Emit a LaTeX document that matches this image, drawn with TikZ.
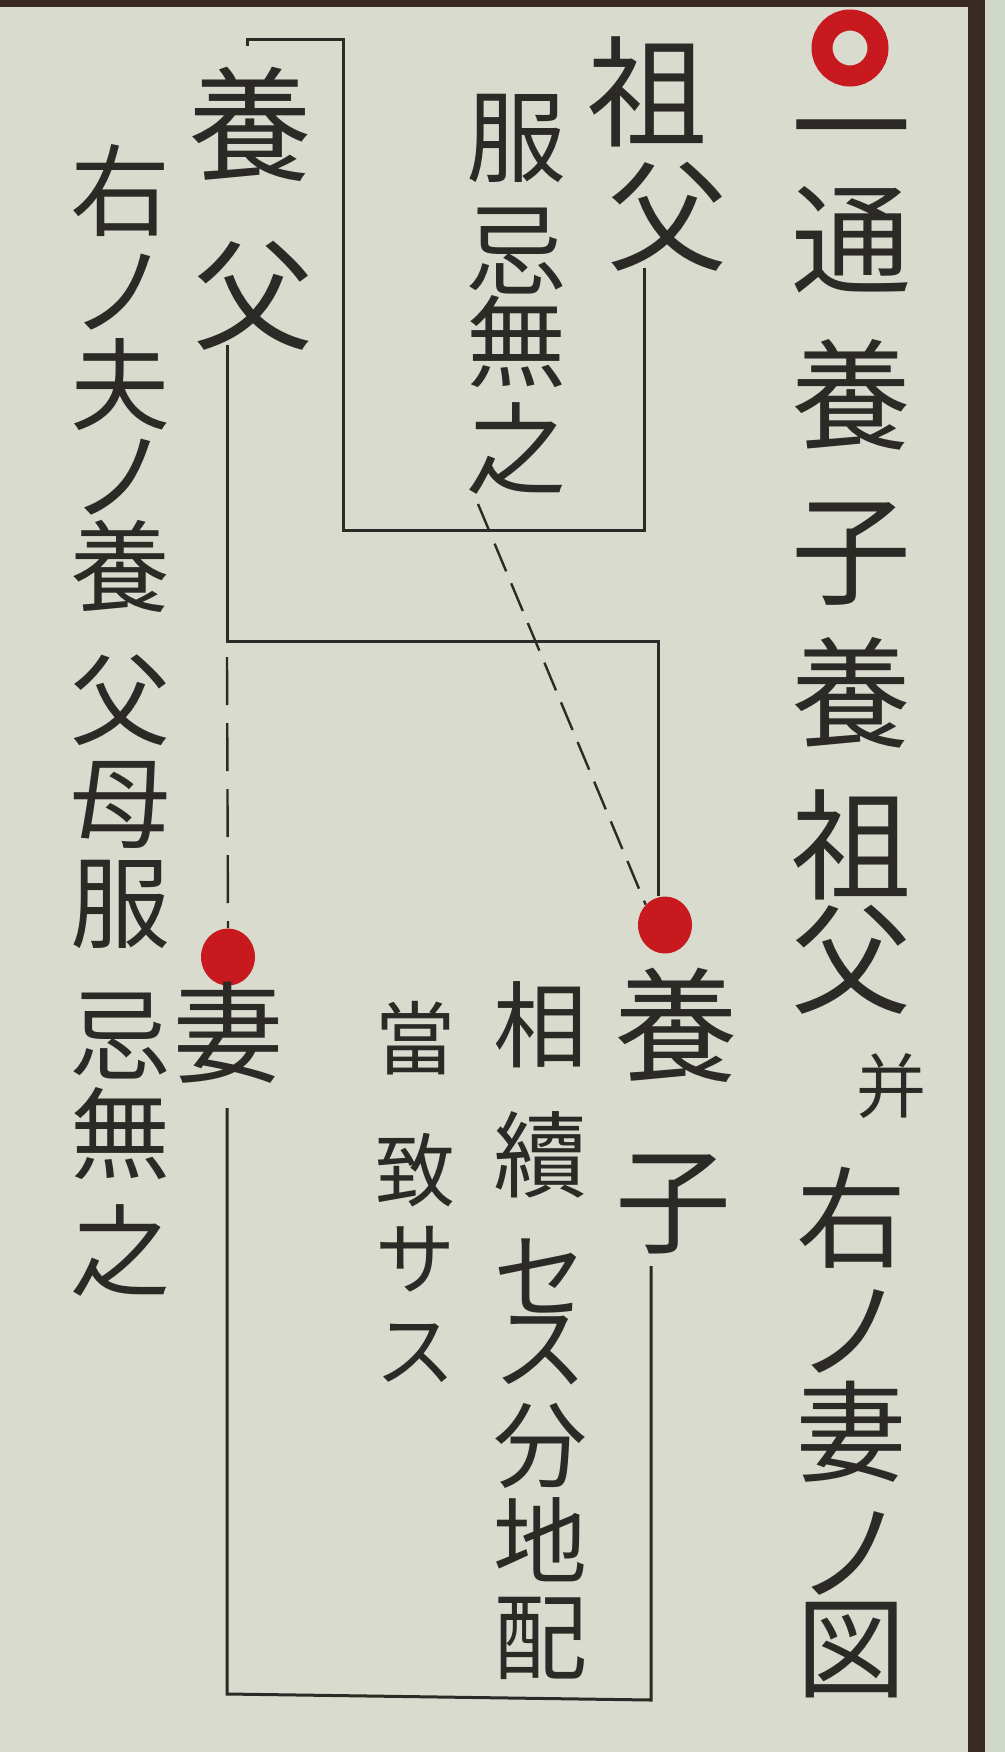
\documentclass[tikz,border=0pt]{standalone}
\usepackage{fontspec}
\newfontfamily\cjk{Noto Sans CJK JP}
\usetikzlibrary{shapes.geometric}
\definecolor{paper}{HTML}{DADBCF}
\definecolor{strip}{HTML}{D0D8CB}
\definecolor{frame}{HTML}{3A2A24}
\definecolor{ink}{HTML}{2C2A26}
\definecolor{seal}{HTML}{C8191E}
\newcommand\emglyph[1]{\raisebox{0pt}[0.88em][0.12em]{#1}}
\tikzset{
  ch/.style={inner sep=0pt, text=ink, font=\cjk\fontsize{#1}{#1}\selectfont},
  ch/.default=60,
  rule/.style={draw=ink, line width=1.5pt, line join=miter},
  vdash/.style={draw=ink, line width=1.2pt, dash pattern=on 24pt off 9pt},
  ddash/.style={draw=ink, line width=1.2pt, dash pattern=on 15pt off 6.5pt},
  dot/.style={ellipse, fill=seal, minimum width=27pt, minimum height=28.5pt, inner sep=0pt},
  ring/.style={circle, draw=seal, line width=10.5pt, minimum size=28pt, inner sep=0pt}
}
\begin{document}
\begin{tikzpicture}[x=0.5pt,y=-0.5pt]
\useasboundingbox (0,0) rectangle (1005,1752);
% paper and frame
\fill[paper] (0,0) rectangle (1005,1752);
\fill[strip] (985,0) rectangle (1005,1752);
\fill[frame] (968,0) rectangle (985,1752);
\fill[frame] (0,0) rectangle (985,7);

% named coordinates for connector ends
\coordinate (c1) at (247,46);
\coordinate (c2) at (343,39);
\coordinate (c4) at (644,530);
\coordinate (c5) at (644,268);
\coordinate (f1) at (227,345);
\coordinate (f2) at (658,641);
\coordinate (g1) at (478,504);
\coordinate (h1) at (227,1108);
\coordinate (h2) at (227,1694);
\coordinate (h3) at (651,1700);
\coordinate (h4) at (651,1266);

% seals
\node[ring] (ring) at (850,48) {};
\node[dot] (d1) at (228,957) {};
\node[dot] (d2) at (665,925) {};

% connectors
\draw[rule] (c1) |- (c2) |- (c4) -- (c5);
\draw[rule] (f1) |- (f2) -- (f2 |- d2.north);
\draw[vdash] (f1 |- f2) ++(0,16) -- (d1.north);
\draw[ddash] (g1) -- (d2.north west);
\draw[rule] (h1) -- (h2) -- (h3) -- (h4);

% title column
\foreach \c/\y [count=\i] in {一/126,通/239,養/395,子/550,養/693,祖/845,父/959}
  \node[ch=60] (t\i) at (851,\y) {\emglyph{\c}};
\foreach \c/\y [count=\i from 8] in {右/1218,ノ/1330,妻/1432,ノ/1552,図/1648}
  \node[ch=55] (t\i) at (851,\y) {\emglyph{\c}};
\node[ch=35] (tb) at (891,1086) {\emglyph{并}};

% grandfather
\node[ch=60] (s1) at (647,92) {\emglyph{祖}};
\node[ch=60] (s2) at (667,216) {\emglyph{父}};
\foreach \c/\y [count=\i] in {服/136,忌/249,無/341,之/448}
  \node[ch=50] (m\i) at (516,\y) {\emglyph{\c}};

% adoptive father
\node[ch=62] (a1) at (250,124) {\emglyph{養}};
\node[ch=60] (a2) at (253,295) {\emglyph{父}};

% left column
\foreach \c/\y [count=\i] in {右/190,ノ/290,夫/384,ノ/475,養/566,父/699,母/802,服/902,忌/1034,無/1133,之/1250}
  \node[ch=50] (l\i) at (120,\y) {\emglyph{\c}};

% wife
\node[ch=55] (w1) at (228,1033) {\emglyph{妻}};

% adopted child
\node[ch=62] (y1) at (676,1025) {\emglyph{養}};
\node[ch=58] (y2) at (673,1200) {\emglyph{子}};

\foreach \c/\y [count=\i] in {相/1025,續/1155,セ/1276,ス/1347,分/1445,地/1541,配/1637}
  \node[ch=47] (r\i) at (540,\y) {\emglyph{\c}};
\foreach \c/\y [count=\i] in {當/1038,致/1170,サ/1258,ス/1350}
  \node[ch=40] (q\i) at (415,\y) {\emglyph{\c}};
\end{tikzpicture}
\end{document}
